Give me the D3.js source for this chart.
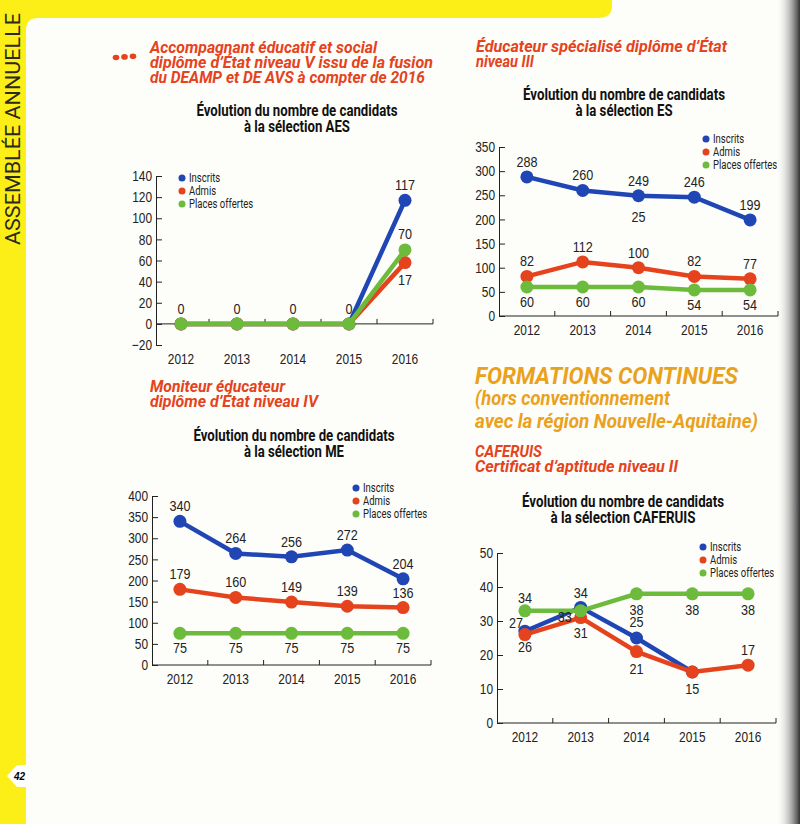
<!DOCTYPE html>
<html>
<head>
<meta charset="utf-8">
<script src="https://cdn.jsdelivr.net/npm/d3@7"></script>
<style>
  body { margin: 0; background: #fff; }
  svg { display: block; }
  .head { font-family: Roboto, "Liberation Sans", sans-serif; font-weight: bold; font-style: italic; }
  .ctitle { font-family: Roboto, "Liberation Sans", sans-serif; font-weight: bold; font-size: 16.5px; fill: #111; }
  .tick text { font-family: "Liberation Sans", Arial, sans-serif; font-size: 14.5px; fill: #222; }
  .lab { font-family: "Liberation Sans", Arial, sans-serif; font-size: 15px; fill: #222; }
  .xlab { font-family: "Liberation Sans", Arial, sans-serif; font-size: 14.5px; fill: #222; }
  .leg { font-family: Roboto, "Liberation Sans", sans-serif; font-size: 12.5px; fill: #222; }
</style>
</head>
<body>
<svg id="page" width="800" height="824"></svg>
<script>
// shared
const years = ["2012", "2013", "2014", "2015", "2016"]
const seriesNames = ["Inscrits", "Admis", "Places offertes"]
const colors = { "Inscrits": "#1f46b4", "Admis": "#e5431d", "Places offertes": "#6dbb3c" }

// AES
const aesInscrits = [0, 0, 0, 0, 117]
const aesAdmis = [0, 0, 0, 0, 58]
const aesPlaces = [0, 0, 0, 0, 70]
const aesInscritsLabels = ["0", "0", "0", "0", "117"]
const aesAdmisLabels = ["", "", "", "", "17"]
const aesPlacesLabels = ["", "", "", "", "70"]
const aesTicks = [-20, 0, 20, 40, 60, 80, 100, 120, 140]

// ES
const esInscrits = [288, 260, 249, 246, 199]
const esAdmis = [82, 112, 100, 82, 77]
const esPlaces = [60, 60, 60, 54, 54]
const esExtraLabel = "25"
const esTicks = [0, 50, 100, 150, 200, 250, 300, 350]

// ME
const meInscrits = [340, 264, 256, 272, 204]
const meAdmis = [179, 160, 149, 139, 136]
const mePlaces = [75, 75, 75, 75, 75]
const meTicks = [0, 50, 100, 150, 200, 250, 300, 350, 400]

// CAFERUIS
const cafInscrits = [27, 34, 25, 15, null]
const cafAdmis = [26, 31, 21, 15, 17]
const cafPlaces = [33, 33, 38, 38, 38]
const cafInscritsLabels = ["27", "34", "25", "", ""]
const cafAdmisLabels = ["26", "31", "21", "15", "17"]
const cafPlacesLabels = ["34", "33", "38", "38", "38"]
const cafTicks = [0, 10, 20, 30, 40, 50]

const svg = d3.select('#page')

// squeeze text to look like the condensed face of the print
function condense(sel, f) {
    sel.each(function () {
        const w = this.getComputedTextLength()
        if (w > 0) d3.select(this).attr('textLength', w * f).attr('lengthAdjust', 'spacingAndGlyphs')
    })
}

// page decoration
svg.append('rect').attr('width', 800).attr('height', 824).attr('fill', '#fdfdf9')
svg.append('path')
    .attr('d', 'M0,0 H612 V6 Q612,18 598,18 H38 Q26,18 26,30 V824 H0 Z')
    .attr('fill', '#fbef17')
const shade = svg.append('defs').append('linearGradient').attr('id', 'shade')
shade.append('stop').attr('offset', '0%').attr('stop-color', '#fff').attr('stop-opacity', 0)
shade.append('stop').attr('offset', '100%').attr('stop-color', '#333')
svg.append('rect').attr('x', 776).attr('width', 24).attr('height', 824).attr('fill', 'url(#shade)')
svg.append('text')
    .attr('transform', 'translate(20,245) rotate(-90)')
    .attr('font-family', 'Roboto, "Liberation Sans", sans-serif')
    .attr('font-size', 20).attr('fill', '#2a2a1e')
    .attr('textLength', 232).attr('lengthAdjust', 'spacingAndGlyphs')
    .text('ASSEMBLÉE ANNUELLE')
svg.append('path').attr('d', 'M7,776 L17,765 H27 V787 H17 Z').attr('fill', '#fff')
svg.append('text').attr('x', 14).attr('y', 780).attr('font-size', 10).attr('font-weight', 'bold')
    .attr('font-style', 'italic').attr('font-family', 'Liberation Sans, sans-serif').text('42')

function heading(x, y, lines, widths, size, color, gap) {
    lines.forEach((l, i) => {
        svg.append('text').attr('class', 'head').attr('fill', color).attr('font-size', size)
            .attr('x', x).attr('y', y + i * gap)
            .attr('textLength', widths[i]).attr('lengthAdjust', 'spacingAndGlyphs')
            .text(l)
    })
}

function chartTitle(cx, y, lines, widths) {
    lines.forEach((l, i) => {
        svg.append('text').attr('class', 'ctitle').attr('text-anchor', 'middle')
            .attr('x', cx).attr('y', y + i * 16)
            .attr('textLength', widths[i]).attr('lengthAdjust', 'spacingAndGlyphs')
            .text(l)
    })
}

function drawChart(c) {
    const x = d3.scaleBand().domain(years).range([c.x0, c.x1])
    const y = d3.scaleLinear().domain([c.ticks[0], c.ticks[c.ticks.length - 1]]).range([c.yBottom, c.yTop])
    const g = svg.append('g')
    const cx = i => x(years[i]) + x.bandwidth() / 2

    const ax = g.append('g').attr('transform', `translate(${c.axisX},0)`)
        .call(d3.axisLeft(y).tickValues(c.ticks).tickSize(-6).tickSizeOuter(0).tickPadding(4))
    ax.select('.domain').attr('stroke', '#222')
    ax.selectAll('.tick line').attr('stroke', '#222')
    condense(ax.selectAll('.tick text'), 0.82)

    // x axis at zero, small ticks between years
    g.append('line').attr('x1', c.axisX).attr('x2', c.x1).attr('y1', y(0)).attr('y2', y(0)).attr('stroke', '#222')
    g.selectAll('.xt').data(years).join('line')
        .attr('x1', d => x(d) + x.bandwidth()).attr('x2', d => x(d) + x.bandwidth())
        .attr('y1', y(0)).attr('y2', y(0) - 5).attr('stroke', '#222')
    g.selectAll('.xlab').data(years).join('text').attr('class', 'xlab')
        .attr('x', d => x(d) + x.bandwidth() / 2).attr('y', c.yBottom + 19)
        .attr('text-anchor', 'middle').text(d => d)
        .call(condense, 0.82)

    const line = d3.line().defined(d => d != null).x((d, i) => cx(i)).y(d => y(d))

    c.order.forEach(s => {
        const vals = c.series[s]
        g.append('path').datum(vals).attr('d', line).attr('fill', 'none')
            .attr('stroke', colors[s]).attr('stroke-width', 4.5)
        g.selectAll(null).data(vals.map((v, i) => ({ v, i })).filter(d => d.v != null))
            .join('circle')
            .attr('cx', d => cx(d.i)).attr('cy', d => y(d.v)).attr('r', 6.5).attr('fill', colors[s])
    })

    c.labels.forEach(L => {
        const vals = c.series[L.series]
        L.text.forEach((t, i) => {
            if (!t) return
            const dy = Array.isArray(L.dy) ? L.dy[i] : L.dy
            const dx = L.dx ? L.dx[i] : 0
            g.append('text').attr('class', 'lab').attr('text-anchor', 'middle')
                .attr('x', cx(i) + dx).attr('y', y(vals[i]) + dy)
                .text(t).call(condense, 0.84)
        })
    })

    const lg = g.append('g')
    seriesNames.forEach((s, i) => {
        lg.append('circle').attr('cx', c.legX).attr('cy', c.legY + i * 13).attr('r', 3.5).attr('fill', colors[s])
        lg.append('text').attr('class', 'leg').attr('x', c.legX + 7).attr('y', c.legY + i * 13 + 4)
            .text(s).call(condense, 0.76)
    })
    return { x, y, cx }
}

// headings
svg.selectAll('.dot').data([0, 1, 2]).join('ellipse')
    .attr('cx', d => 116 + d * 8.5).attr('cy', d => 57.5 - d * 0.6)
    .attr('rx', 3.3).attr('ry', 2.8).attr('fill', '#e5431d')
heading(150, 53, ["Accompagnant éducatif et social", "diplôme d’État niveau V issu de la fusion", "du DEAMP et DE AVS à compter de 2016"],
    [227, 283, 275], 17, '#e5431d', 15)
chartTitle(297, 116, ["Évolution du nombre de candidats", "à la sélection AES"], [201, 106])

heading(476, 52, ["Éducateur spécialisé diplôme d’État", "niveau III"], [251, 58], 17, '#e5431d', 15)
chartTitle(624, 100, ["Évolution du nombre de candidats", "à la sélection ES"], [202, 97])

heading(150, 392, ["Moniteur éducateur", "diplôme d’État niveau IV"], [135, 168], 17, '#e5431d', 14.5)
chartTitle(294, 441, ["Évolution du nombre de candidats", "à la sélection ME"], [201, 100])

heading(475, 384, ["FORMATIONS CONTINUES"], [263], 24.5, '#eaa11c', 0)
heading(475, 405, ["(hors conventionnement", "avec la région Nouvelle-Aquitaine)"], [195, 283], 20, '#eaa11c', 23)
heading(475, 457, ["CAFERUIS", "Certificat d’aptitude niveau II"], [67, 203], 17, '#e5431d', 15)
chartTitle(623, 507, ["Évolution du nombre de candidats", "à la sélection CAFERUIS"], [202, 145])

// charts
drawChart({
    x0: 153, x1: 433, axisX: 156, yTop: 176, yBottom: 345, ticks: aesTicks,
    series: { "Inscrits": aesInscrits, "Admis": aesAdmis, "Places offertes": aesPlaces },
    order: ["Inscrits", "Admis", "Places offertes"],
    labels: [
        { series: "Inscrits", text: aesInscritsLabels, dy: -10 },
        { series: "Admis", text: aesAdmisLabels, dy: 22 },
        { series: "Places offertes", text: aesPlacesLabels, dy: -11 }
    ],
    legX: 182, legY: 178
})

const es = drawChart({
    x0: 499, x1: 778, axisX: 499, yTop: 147, yBottom: 316, ticks: esTicks,
    series: { "Inscrits": esInscrits, "Admis": esAdmis, "Places offertes": esPlaces },
    order: ["Inscrits", "Admis", "Places offertes"],
    labels: [
        { series: "Inscrits", text: esInscrits.map(String), dy: -10 },
        { series: "Admis", text: esAdmis.map(String), dy: -10 },
        { series: "Places offertes", text: esPlaces.map(String), dy: 20 }
    ],
    legX: 706, legY: 139
})
svg.append('text').attr('class', 'lab').attr('text-anchor', 'middle')
    .attr('x', es.cx(2)).attr('y', es.y(esInscrits[2]) + 26).text(esExtraLabel).call(condense, 0.84)

drawChart({
    x0: 152, x1: 431, axisX: 152, yTop: 496, yBottom: 665, ticks: meTicks,
    series: { "Inscrits": meInscrits, "Admis": meAdmis, "Places offertes": mePlaces },
    order: ["Inscrits", "Admis", "Places offertes"],
    labels: [
        { series: "Inscrits", text: meInscrits.map(String), dy: -10 },
        { series: "Admis", text: meAdmis.map(String), dy: -10 },
        { series: "Places offertes", text: mePlaces.map(String), dy: 20 }
    ],
    legX: 356, legY: 488
})

drawChart({
    x0: 497, x1: 776, axisX: 497, yTop: 553, yBottom: 723, ticks: cafTicks,
    series: { "Inscrits": cafInscrits, "Admis": cafAdmis, "Places offertes": cafPlaces },
    order: ["Inscrits", "Admis", "Places offertes"],
    labels: [
        { series: "Inscrits", text: cafInscritsLabels, dy: [-3, -9, -11, 0, 0], dx: [-9, 0, 0, 0, 0] },
        { series: "Admis", text: cafAdmisLabels, dy: [17, 20, 22, 22, -10] },
        { series: "Places offertes", text: cafPlacesLabels, dy: [-8, 11, 21, 21, 21], dx: [0, -16, 0, 0, 0] }
    ],
    legX: 703, legY: 547
})
</script>
</body>
</html>
